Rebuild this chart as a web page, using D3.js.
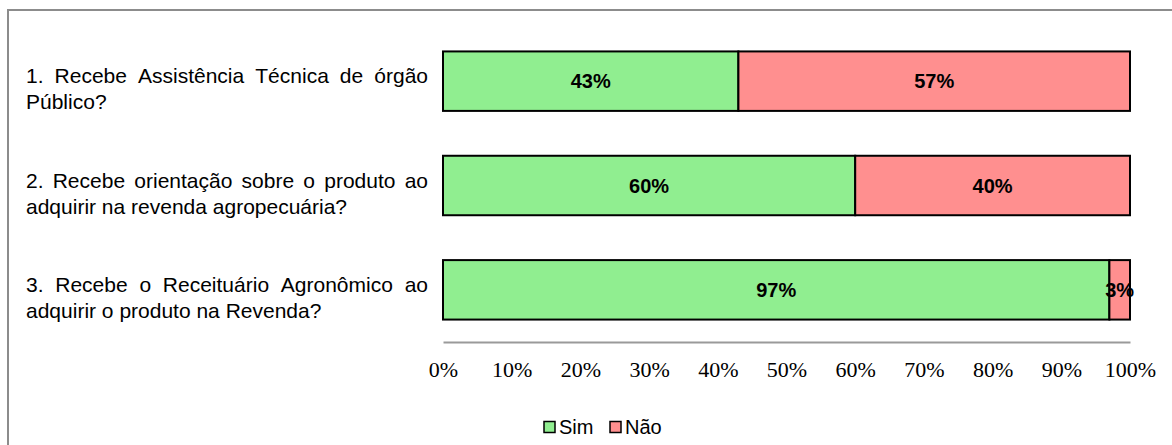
<!DOCTYPE html>
<html>
<head>
<meta charset="utf-8">
<script src="https://cdn.jsdelivr.net/npm/d3@7"></script>
<style>
  body { margin: 0; background: #fff; }
  svg { display: block; }
</style>
</head>
<body>
<svg width="1172" height="445"></svg>
<script>
let categories = [
  "1. Recebe Assistência Técnica de órgão Público?",
  "2. Recebe orientação sobre o produto ao adquirir na revenda agropecuária?",
  "3. Recebe o Receituário Agronômico ao adquirir o produto na Revenda?"
];
let labelLines = [
  ["1. Recebe Assistência Técnica de órgão", "Público?"],
  ["2. Recebe orientação sobre o produto ao", "adquirir na revenda agropecuária?"],
  ["3. Recebe o Receituário Agronômico ao", "adquirir o produto na Revenda?"]
];
let simValues = [43, 60, 97];
let naoValues = [57, 40, 3];
let seriesNames = ["Sim", "Não"];
let seriesColors = ["#90ee90", "#ff8f8f"];
let tickValues = [0, 10, 20, 30, 40, 50, 60, 70, 80, 90, 100];

let svg = d3.select("svg");

// outer frame
svg.append("path")
  .attr("d", "M8,445 V10 H1172")
  .attr("fill", "none")
  .attr("stroke", "#8c8c8c")
  .attr("stroke-width", 2);

let margin = {top: 29, left: 443, right: 42, bottom: 103};
let width = 1172 - margin.left - margin.right,
  height = 445 - margin.top - margin.bottom;

let xScale = d3.scaleLinear().domain([0, 100]).range([0, width]);
let yScale = d3.scaleBand().domain(categories).range([0, height]).paddingInner(0.43).paddingOuter(0.215);

let g = svg.append("g")
  .attr("transform", "translate(" + margin.left + "," + margin.top + ")");

let rows = categories.map(function (c, i) {
  return {cat: c, parts: [
    {name: seriesNames[0], x0: 0, x1: simValues[i], v: simValues[i], color: seriesColors[0]},
    {name: seriesNames[1], x0: simValues[i], x1: simValues[i] + naoValues[i], v: naoValues[i], color: seriesColors[1]}
  ]};
});

let rowG = g.selectAll(".row")
  .data(rows)
  .enter().append("g")
  .attr("class", "row")
  .attr("transform", function (d) { return "translate(0," + yScale(d.cat) + ")"; });

rowG.selectAll("rect")
  .data(function (d) { return d.parts; })
  .enter().append("rect")
  .attr("x", function (d) { return xScale(d.x0); })
  .attr("width", function (d) { return xScale(d.x1) - xScale(d.x0); })
  .attr("y", 0)
  .attr("height", yScale.bandwidth())
  .attr("fill", function (d) { return d.color; })
  .attr("stroke", "#000")
  .attr("stroke-width", 2);

rowG.selectAll("text")
  .data(function (d) { return d.parts; })
  .enter().append("text")
  .attr("x", function (d) { return (xScale(d.x0) + xScale(d.x1)) / 2; })
  .attr("y", yScale.bandwidth() / 2)
  .attr("dy", "0.36em")
  .attr("text-anchor", "middle")
  .attr("font-family", "Liberation Sans, Arial, sans-serif")
  .attr("font-size", 20)
  .attr("font-weight", "bold")
  .attr("fill", "#000")
  .text(function (d) { return d.v + "%"; });

// x axis
let xAxis = d3.axisBottom(xScale)
  .tickValues(tickValues)
  .tickSize(0)
  .tickPadding(21)
  .tickFormat(function (d) { return d + "%"; });

let axisG = g.append("g")
  .attr("transform", "translate(0," + height + ")")
  .call(xAxis);
axisG.select(".domain").attr("stroke", "#9a9a9a").attr("stroke-width", 2);
axisG.selectAll("text")
  .attr("font-family", "Liberation Serif, DejaVu Serif, serif")
  .attr("font-size", 20)
  .attr("transform", "scale(1.1,1)")
  .attr("fill", "#000");

// category labels, justified first line
let labelLeft = 26, labelRight = 428;
categories.forEach(function (c, i) {
  let cy = margin.top + yScale(c) + yScale.bandwidth() / 2;
  let lines = labelLines[i];
  lines.forEach(function (line, li) {
    let y = cy + 2 + li * 26;
    let words = line.split(" ");
    let t = svg.append("text")
      .attr("font-family", "Liberation Sans, Arial, sans-serif")
      .attr("font-size", 21)
      .attr("fill", "#000");
    if (li < lines.length - 1) {
      let spans = words.map(function (w) {
        return t.append("tspan").attr("y", y).text(w);
      });
      let total = 0;
      spans.forEach(function (s) { total += s.node().getComputedTextLength(); });
      let gap = (labelRight - labelLeft - total) / (words.length - 1);
      let x = labelLeft;
      spans.forEach(function (s) {
        s.attr("x", x);
        x += s.node().getComputedTextLength() + gap;
      });
    } else {
      t.attr("x", labelLeft).attr("y", y).text(line);
    }
  });
});

// legend
let legend = svg.append("g").attr("transform", "translate(544,427)");
let legendX = [0, 66];
seriesNames.forEach(function (name, i) {
  legend.append("rect")
    .attr("x", legendX[i])
    .attr("y", -5.5)
    .attr("width", 11)
    .attr("height", 11)
    .attr("fill", seriesColors[i])
    .attr("stroke", "#000")
    .attr("stroke-width", 1.5);
  legend.append("text")
    .attr("x", legendX[i] + 15)
    .attr("y", 0)
    .attr("dy", "0.36em")
    .attr("font-family", "Liberation Sans, Arial, sans-serif")
    .attr("font-size", 20)
    .attr("fill", "#000")
    .text(name);
});
</script>
</body>
</html>
